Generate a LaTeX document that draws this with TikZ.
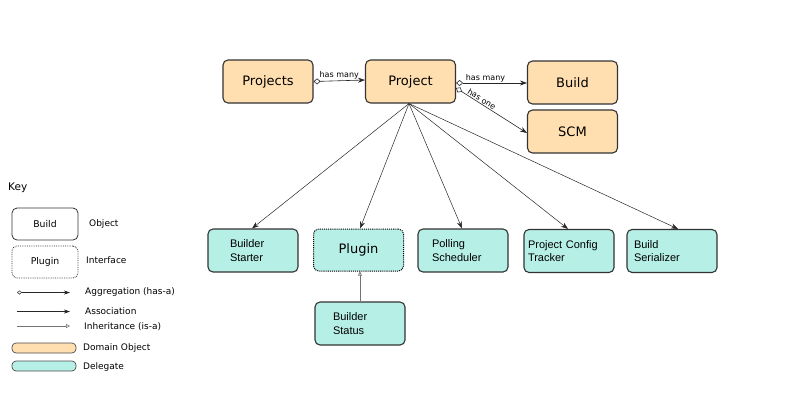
\documentclass[tikz,border=0pt]{standalone}
\usepackage{fontspec}
\setmainfont{DejaVu Sans}
\newfontfamily\arialf{Liberation Sans}
\usetikzlibrary{arrows.meta}
\definecolor{domain}{HTML}{FFDFAF}
\definecolor{deleg}{HTML}{B6EFE6}
\definecolor{edgec}{HTML}{333333}
\begin{document}
\begin{tikzpicture}[x=1pt,y=-1pt,
  box/.style={draw=edgec, line width=1.1pt, rounded corners=5pt, minimum width=90pt, minimum height=43pt, inner sep=0pt},
  dom/.style={box, fill=domain, font=\fontsize{13}{15}\selectfont},
  del/.style={box, fill=deleg, font=\arialf\fontsize{11}{13.5}\selectfont, align=left},
  assoc/.style={draw=black!85, line width=0.6pt, -{Stealth[length=7pt,width=5pt]}},
  agg/.style={draw=black!85, line width=0.6pt, {Diamond[open,length=7pt,width=6pt]}-{Stealth[length=7pt,width=5pt]}},
  inh/.style={draw=black!55, line width=0.7pt, -{Triangle[open,length=4pt,width=4pt]}},
  lbl/.style={font=\fontsize{8}{9}\selectfont, inner sep=1pt},
  keyt/.style={font=\fontsize{9}{11}\selectfont, anchor=west, inner sep=0pt},
  keybox/.style={draw=black!80, line width=0.8pt, rounded corners=5pt, minimum width=66pt, minimum height=32pt, inner sep=0pt, font=\fontsize{9.3}{11}\selectfont},
  swatch/.style={draw=black!70, line width=0.7pt, rounded corners=4pt, minimum width=64pt, minimum height=10pt, inner sep=0pt}
]
\useasboundingbox (0,0) rectangle (800,400);

% domain objects
\node[dom] (projects) at (268,81.5) {Projects};
\node[dom] (project) at (410.5,81.5) {Project};
\node[dom] (build) at (572.5,82.5) {Build};
\node[dom] (scm) at (572.5,131.5) {SCM};

% delegates
\node[del, inner xsep=22pt, text width=46pt] (bs) at (253,250.5) {Builder\\Starter};
\node[box, fill=deleg, draw=black, densely dotted, line width=1pt, font=\fontsize{13}{15}\selectfont, minimum height=42pt] (plugin) at (358.5,250) {Plugin};
\node[del, inner xsep=14pt, text width=62pt] (ps) at (463,250.5) {Polling\\Scheduler};
\node[del, inner xsep=4pt, text width=82pt] (pct) at (569,251) {Project Config\\Tracker};
\node[del, inner xsep=7pt, text width=76pt] (bsz) at (672,251) {Build\\Serializer};
\node[del, inner xsep=18pt, text width=54pt] (bst) at (360,323.5) {Builder\\Status};

% connectors
\draw[agg] (projects.east) -- node[lbl, above] {has many} ([yshift=1.5pt]project.west);
\draw[agg] ([yshift=-1.5pt]project.east) -- node[lbl, above, xshift=-6pt] {has many} ([yshift=-0.5pt]build.west);
\draw[agg] ([yshift=-6.5pt]project.east) -- node[lbl, above, sloped, pos=0.33] {has one} ([yshift=-1.5pt]scm.west);

\coordinate (pb) at ([xshift=-1.5pt]project.south);
\draw[assoc, line width=0.5pt] (pb) -- ([xshift=-1pt]bs.north);
\draw[assoc, line width=0.5pt] (pb) -- ([xshift=1.5pt]plugin.north);
\draw[assoc, line width=0.5pt] (pb) -- ([xshift=-1pt]ps.north);
\draw[assoc, line width=0.5pt] (pb) -- ([xshift=-1pt]pct.north);
\draw[assoc, line width=0.5pt] (pb) -- ([xshift=6pt]bsz.north);

\draw[inh] (bst.north) -- (bst.north |- plugin.south);

% key
\node[anchor=west, inner sep=0pt, font=\fontsize{10.5}{12}\selectfont] (key) at (8,187.5) {Key};
\node[keybox] (kb) at (45,224) {Build};
\node[keyt] (kbt) at (89,224.5) {Object};
\node[keybox, densely dotted] (kp) at (45,262) {Plugin};
\node[keyt] (kpt) at (86,260) {Interface};

\coordinate (a1) at (17,292.5);
\coordinate (a2) at (70,292.5);
\draw[agg, line width=0.5pt, {Diamond[open,length=5pt,width=4pt]}-{Stealth[length=6pt,width=4pt]}] (a1) -- (a2);
\node[keyt] (at) at (85,292.5) {Aggregation (has-a)};
\coordinate (s1) at (17,311.5);
\coordinate (s2) at (70,311.5);
\draw[assoc, line width=0.5pt, -{Stealth[length=6pt,width=4pt]}] (s1) -- (s2);
\node[keyt] (st) at (85,311.5) {Association};
\coordinate (i1) at (17,326);
\coordinate (i2) at (70,326);
\draw[inh, line width=0.5pt] (i1) -- (i2);
\node[keyt] (it) at (84,326.5) {Inheritance (is-a)};

\node[swatch, fill=domain] (sw1) at (44,348) {};
\node[keyt] (sw1t) at (83,348.5) {Domain Object};
\node[swatch, fill=deleg] (sw2) at (44,366) {};
\node[keyt] (sw2t) at (83,367) {Delegate};
\end{tikzpicture}
\end{document}
